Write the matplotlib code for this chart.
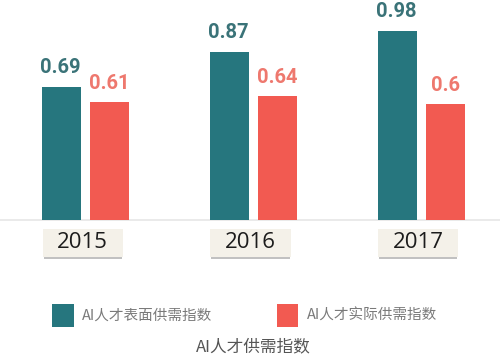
import matplotlib
matplotlib.use('Agg')
import matplotlib.pyplot as plt
from matplotlib.patches import Rectangle
import numpy as np

plt.rcParams['font.family'] = ['Noto Sans CJK SC', 'DejaVu Sans']

years = ['2015', '2016', '2017']
surface = [0.69, 0.87, 0.98]
actual = [0.61, 0.64, 0.6]
surface_name = 'AI人才表面供需指数'
actual_name = 'AI人才实际供需指数'
title = 'AI人才供需指数'

teal = '#26767e'
red = '#f25a51'
teal_txt = '#3a7378'
red_txt = '#ee786e'

W, H = 500, 362
fig = plt.figure(figsize=(W / 100, H / 100), dpi=100)
fig.patch.set_facecolor('white')

# axes: full width, from top to the bar baseline (y = 220 px)
base = 220
ax = fig.add_axes([0, (H - base) / H, 1, base / H])
ax.set_xlim(-0.511, 2.469)
ax.set_ylim(0, base / 193.0)
ax.axis('off')

x = np.arange(len(years))
bw = 0.2325
off = 0.1416
ax.bar(x - off, surface, bw, color=teal, zorder=3)
ax.bar(x + off, actual, bw, color=red, zorder=3)

lab_font = ['Roboto', 'DejaVu Sans']
for i in range(len(years)):
    ax.text(x[i] - off - 0.01, surface[i] + 0.05, f'{surface[i]:g}', ha='center', va='bottom',
            fontsize=14.5, fontweight='bold', color=teal_txt, family=lab_font)
    ax.text(x[i] + off, actual[i] + 0.05, f'{actual[i]:g}', ha='center', va='bottom',
            fontsize=14.5, fontweight='bold', color=red_txt, family=lab_font)

# faint baseline
ax.axhline(0, color='#e6e6e6', lw=1.2, zorder=1, clip_on=False)

# year label boxes below the bars
px = 1 / 193.0
bx_w = 0.477
for i, yr in enumerate(years):
    cx = x[i] - 0.018
    ax.add_patch(Rectangle((cx - bx_w / 2 + 0.005, -39 * px), bx_w - 0.01, 30 * px,
                           facecolor='#8e8e8e', edgecolor='none', alpha=0.55,
                           clip_on=False, zorder=2))
    ax.add_patch(Rectangle((cx - bx_w / 2, -36.5 * px), bx_w, 28 * px,
                           facecolor='#f4f1e9', edgecolor='none',
                           clip_on=False, zorder=3))
    ax.text(cx, -22.5 * px, yr, ha='center', va='center', fontsize=16,
            color='#1c1c1c', family=['Open Sans', 'DejaVu Sans'], zorder=4)

# legend
def fx(p):
    return p / W


def fy(p):
    return (H - p) / H


fig.patches.append(Rectangle((fx(52), fy(327)), fx(74) - fx(52), fy(304) - fy(327),
                             transform=fig.transFigure, facecolor=teal, edgecolor='none'))
fig.patches.append(Rectangle((fx(277), fy(327)), fx(298) - fx(277), fy(304) - fy(327),
                             transform=fig.transFigure, facecolor=red, edgecolor='none'))
fig.text(fx(82), fy(316), surface_name, ha='left', va='center', fontsize=10.5, color='#7a7a7a')
fig.text(fx(307), fy(316), actual_name, ha='left', va='center', fontsize=10.5, color='#7a7a7a')
fig.text(fx(253), fy(347), title, ha='center', va='center', fontsize=12, color='#555555')

fig.savefig('out.png', dpi=100)
